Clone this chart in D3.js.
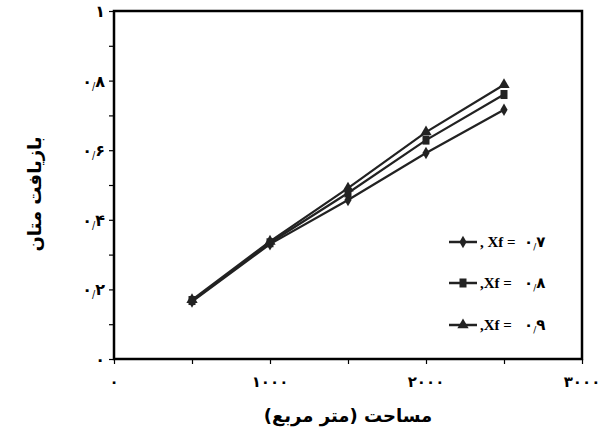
<!DOCTYPE html>
<html>
<head>
<meta charset="utf-8">
<script src="https://cdn.jsdelivr.net/npm/d3@7"></script>
<style>
  body { margin: 0; background: #fff; }
  text { font-family: "DejaVu Sans", sans-serif; font-weight: bold; fill: #000; }
</style>
</head>
<body>
<svg id="chart" width="612" height="439"></svg>
<script>
// Data
const areas = [500, 1000, 1500, 2000, 2500];
const xf07 = [0.165, 0.330, 0.457, 0.592, 0.716];
const xf08 = [0.168, 0.334, 0.477, 0.629, 0.760];
const xf09 = [0.170, 0.338, 0.491, 0.652, 0.788];

const seriesNames = ['0.7', '0.8', '0.9'];
const seriesLabels = [', Xf = ', ',Xf = ', ',Xf = '];
const seriesDigits = [['۰', '۷'], ['۰', '۸'], ['۰', '۹']];
const seriesMarkers = ['diamond', 'square', 'triangle'];

const xTicks = [0, 1000, 2000, 3000];
const xTickLabels = ['۰', '۱۰۰۰', '۲۰۰۰', '۳۰۰۰'];
const yTicks = [0, 0.2, 0.4, 0.6, 0.8, 1];
const yTickLabels = [['۰'], ['۰', '۲'], ['۰', '۴'], ['۰', '۶'], ['۰', '۸'], ['۱']];

const xTitle = 'مساحت (متر مربع)';
const yTitle = 'بازیافت متان';

const svg = d3.select('#chart');
const plotLeft = 114, plotRight = 582, plotTop = 11, plotBottom = 359;

const x = d3.scaleLinear().domain([0, 3000]).range([plotLeft, plotRight]);
const y = d3.scaleLinear().domain([0, 1]).range([plotBottom, plotTop]);

const ink = '#222';

// Persian decimal: digit, small slash, digit
function decimalText(sel, parts, size) {
  sel.append('tspan').style('font-size', size + 'px').text(parts[0]);
  if (parts.length > 1) {
    sel.append('tspan')
      .attr('dy', 3)
      .style('font-size', (size * 0.6) + 'px')
      .style('font-weight', 'normal')
      .text('/');
    sel.append('tspan').attr('dy', -3).style('font-size', size + 'px').text(parts[1]);
  }
}

// Frame
svg.append('rect')
  .attr('x', plotLeft).attr('y', plotTop)
  .attr('width', plotRight - plotLeft).attr('height', plotBottom - plotTop)
  .attr('fill', 'none').attr('stroke', '#000').attr('stroke-width', 2.5);

// X axis ticks (major + minor at 500)
const xAxis = svg.append('g').attr('transform', `translate(0,${plotBottom})`)
  .call(d3.axisBottom(x).tickValues(d3.range(0, 3001, 500)).tickSize(5).tickFormat(''));
xAxis.select('.domain').remove();
xAxis.selectAll('line').attr('stroke', '#000').attr('stroke-width', 1.2);

svg.append('g').selectAll('text')
  .data(xTicks)
  .enter().append('text')
  .attr('x', d => x(d))
  .attr('y', 387)
  .attr('text-anchor', 'middle')
  .style('font-size', '15px')
  .text((d, i) => xTickLabels[i]);

// Y axis ticks (major + minor at 0.1)
const yAxis = svg.append('g').attr('transform', `translate(${plotLeft},0)`)
  .call(d3.axisLeft(y).tickValues(d3.range(0, 1.01, 0.1)).tickSize(5).tickFormat(''));
yAxis.select('.domain').remove();
yAxis.selectAll('line').attr('stroke', '#000').attr('stroke-width', 1.2);

yTicks.forEach((v, i) => {
  const t = svg.append('text')
    .attr('x', 105)
    .attr('y', y(v) + 6)
    .attr('text-anchor', 'end');
  decimalText(t, yTickLabels[i], 16);
});

// Axis titles (right-to-left)
svg.append('text')
  .attr('x', 348).attr('y', 422)
  .attr('text-anchor', 'middle')
  .style('direction', 'rtl')
  .style('font-size', '18px')
  .text(xTitle);

svg.append('text')
  .attr('transform', 'translate(41,194) rotate(-90)')
  .attr('text-anchor', 'middle')
  .style('direction', 'rtl')
  .style('font-size', '18px')
  .text(yTitle);

// Markers
function drawMarker(g, type, cx, cy) {
  if (type === 'diamond') {
    g.append('path')
      .attr('d', d3.symbol(d3.symbolDiamond, 45)())
      .attr('transform', `translate(${cx},${cy})`).attr('fill', ink);
  } else if (type === 'square') {
    g.append('rect')
      .attr('x', cx - 3.5).attr('y', cy - 4.5).attr('width', 7).attr('height', 9)
      .attr('fill', ink);
  } else {
    g.append('path')
      .attr('d', d3.symbol(d3.symbolTriangle, 55)())
      .attr('transform', `translate(${cx},${cy})`).attr('fill', ink);
  }
}

const allSeries = [xf07, xf08, xf09];
const line = d3.line().x(d => x(d[0])).y(d => y(d[1]));

allSeries.forEach((vals, si) => {
  const pts = areas.map((a, i) => [a, vals[i]]);
  const g = svg.append('g').attr('class', 'series-' + seriesNames[si]);
  g.append('path')
    .datum(pts)
    .attr('d', line)
    .attr('fill', 'none')
    .attr('stroke', ink)
    .attr('stroke-width', 2.2);
  pts.forEach(p => drawMarker(g, seriesMarkers[si], x(p[0]), y(p[1])));
});

// Legend
const legendY = [242, 283, 325];
seriesNames.forEach((name, i) => {
  const g = svg.append('g');
  g.append('line')
    .attr('x1', 449).attr('x2', 477)
    .attr('y1', legendY[i]).attr('y2', legendY[i])
    .attr('stroke', ink).attr('stroke-width', 2.5);
  drawMarker(g, seriesMarkers[i], 463, legendY[i]);
  g.append('text')
    .attr('x', 480).attr('y', legendY[i] + 5)
    .style('font-family', '"Liberation Serif", serif')
    .style('font-size', '15px')
    .text(seriesLabels[i]);
  const t = g.append('text')
    .attr('x', 524).attr('y', legendY[i] + 5);
  decimalText(t, seriesDigits[i], 15);
});
</script>
</body>
</html>
